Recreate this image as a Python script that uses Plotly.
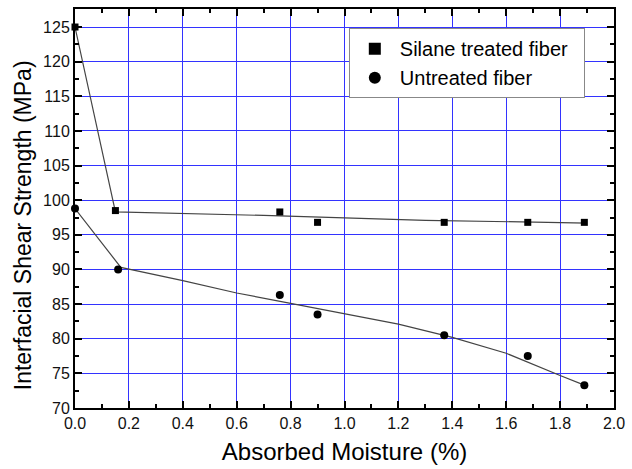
import plotly.graph_objects as go

# measured data points
silane_x = [0.0, 0.15, 0.76, 0.90, 1.37, 1.68, 1.89]
silane_y = [125.0, 98.5, 98.3, 96.8, 96.8, 96.8, 96.8]
untreated_x = [0.0, 0.16, 0.76, 0.90, 1.37, 1.68, 1.89]
untreated_y = [98.8, 90.0, 86.3, 83.5, 80.5, 77.5, 73.3]

# fitted curves
silane_fit_x = [0.0, 0.15, 0.70, 1.30, 1.90]
silane_fit_y = [125.0, 98.3, 97.8, 97.1, 96.7]
untreated_fit_x = [0.0, 0.17, 0.4, 0.6, 0.8, 1.0, 1.2, 1.4, 1.6, 1.8, 1.89]
untreated_fit_y = [98.8, 90.3, 88.4, 86.6, 85.1, 83.6, 82.1, 80.2, 77.9, 74.7, 73.3]

FONT = "Liberation Sans, Arial, sans-serif"
NB = "\u00a0"

fig = go.Figure()
fig.add_trace(go.Scatter(x=silane_fit_x, y=silane_fit_y, mode="lines",
                         line=dict(color="#444444", width=1.2), showlegend=False, hoverinfo="skip"))
fig.add_trace(go.Scatter(x=untreated_fit_x, y=untreated_fit_y, mode="lines",
                         line=dict(color="#444444", width=1.2), showlegend=False, hoverinfo="skip"))
fig.add_trace(go.Scatter(x=silane_x, y=silane_y, mode="markers", name="Silane treated fiber" + NB * 2,
                         marker=dict(symbol="square", size=7, color="black"), cliponaxis=False))
fig.add_trace(go.Scatter(x=untreated_x, y=untreated_y, mode="markers", name="Untreated fiber",
                         marker=dict(symbol="circle", size=8, color="black"), cliponaxis=False))

axis_common = dict(
    showline=True, linecolor="black", linewidth=2, mirror="ticks",
    ticks="inside", ticklen=7, tickwidth=1.5, tickcolor="black",
    showgrid=True, gridcolor="#3333ff", gridwidth=1.4,
    zeroline=False,
    tickfont=dict(family=FONT, size=16, color="#111111"),
)

fig.update_xaxes(range=[0, 2.0], tick0=0, dtick=0.2, tickformat=".1f",
                 minor=dict(ticks="inside", ticklen=4, tickcolor="black", dtick=0.1, tick0=0, showgrid=False),
                 title=dict(text="Absorbed Moisture (%)", standoff=12,
                            font=dict(family=FONT, size=24, color="black")),
                 **axis_common)
fig.update_yaxes(range=[70, 127.6], tick0=70, dtick=5,
                 minor=dict(ticks="inside", ticklen=4, tickcolor="black", dtick=2.5, tick0=70, showgrid=False),
                 **axis_common)

fig.add_annotation(text="Interfacial Shear Strength (MPa)", textangle=-90,
                   xref="paper", yref="paper", x=-0.0976, y=0.459,
                   xanchor="center", yanchor="middle", showarrow=False,
                   font=dict(family=FONT, size=23, color="black"))

fig.update_layout(
    width=632, height=469,
    margin=dict(l=75, r=14, t=7, b=61),
    plot_bgcolor="white", paper_bgcolor="white",
    legend=dict(x=0.508, y=0.952, xanchor="left", yanchor="top",
                bgcolor="white", bordercolor="#888888", borderwidth=1,
                font=dict(family=FONT, size=20, color="black"),
                tracegroupgap=0, itemsizing="constant", itemwidth=40),
)

fig.write_html("out.html")
